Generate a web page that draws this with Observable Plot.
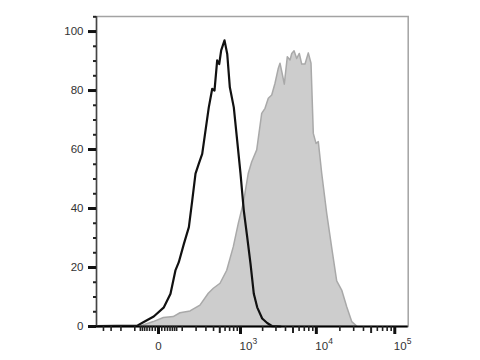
<!DOCTYPE html>
<html>
<head>
<meta charset="utf-8">
<script src="https://cdn.jsdelivr.net/npm/d3@7"></script>
<script src="https://cdn.jsdelivr.net/npm/@observablehq/plot@0.6"></script>
<style>
  html, body { margin: 0; padding: 0; background: #fff; }
</style>
</head>
<body>
<div id="chart"></div>
<script>
// Fluorescence intensity (biexponential-like axis) and event counts (% of max)
const controlX = [-510, -86, -54, -15, 17, 42, 64, 81, 110, 143, 168, 195, 225, 259, 295, 335, 381, 414, 456, 490, 525, 589, 646, 705, 804, 898, 1000, 1111, 1238, 1373, 1523, 1692, 1974, 2300, 2680, 3441];
const controlY = [0.1, 0.3, 1.5, 3.4, 6.5, 11.1, 19, 21.8, 28, 33.7, 42.7, 51.8, 55.2, 58.5, 66.4, 74.3, 80.6, 80, 90.2, 89, 93.6, 97, 92.4, 81.1, 74.3, 63, 51.8, 39.3, 30.3, 21.3, 11.1, 6.5, 2.7, 1.2, 0.1, 0];

const stainedX = [-69, -15, 17, 56, 90, 155, 241, 335, 404, 513, 646, 804, 946, 1111, 1301, 1449, 1692, 1974, 2185, 2415, 2680, 2960, 3272, 3441, 3709, 3916, 4287, 4647, 4891, 5240, 5670, 6128, 6582, 7255, 7999, 8670, 9279, 10050, 10754, 11890, 13780, 15960, 18480, 21410, 24810, 28730, 33240];
const stainedY = [0, 1.5, 2.9, 3.2, 4.5, 5.1, 7.1, 11.1, 12.8, 14.5, 18.9, 26.9, 34.8, 41.7, 51.8, 55.7, 59.7, 72.1, 73.8, 77.2, 78.3, 82.3, 87.4, 89.1, 85.1, 82.0, 91.3, 90.2, 92.4, 93.3, 90.7, 92.4, 88.8, 88.8, 92.6, 89.1, 65.3, 61.9, 62.5, 51.8, 38.2, 26.6, 15.3, 12.2, 6.5, 1.5, 0];

const xDomain = [-513, 148100];
const yDomain = [0, 105.1];

const xMajorTicks = [0, 1000, 10000, 100000];
const xMidTicks = [500, 5000, 50000];
const xMinorTicks = [-400, -300, -200, -100, -70, -60, -50, -40, -30, -20, -10, 10, 20, 30, 40, 50, 60, 70,
  100, 200, 300, 400, 600, 700, 800, 900,
  2000, 3000, 4000, 6000, 7000, 8000, 9000,
  20000, 30000, 40000, 60000, 70000, 80000, 90000];
const xLabelBase = ["0", "10", "10", "10"];
const xLabelExp = ["", "3", "4", "5"];

const yMajorTicks = [0, 20, 40, 60, 80, 100];
const yMinorTicks = [5, 10, 15, 25, 30, 35, 45, 50, 55, 65, 70, 75, 85, 90, 95, 105];

const chart = Plot.plot({
  width: 480,
  height: 360,
  marginLeft: 96,
  marginRight: 72.3,
  marginTop: 16,
  marginBottom: 34,
  style: {
    fontFamily: "'Liberation Sans', Arial, sans-serif",
    fontSize: "11.5px",
    color: "#333",
    background: "#fff",
    overflow: "visible"
  },
  x: { type: "symlog", constant: 100, domain: xDomain, axis: null, label: null },
  y: { domain: yDomain, axis: null, label: null },
  marks: [
    Plot.areaY(stainedY, { x: stainedX, y: stainedY, fill: "#cdcdcd", stroke: "#a9a9a9", strokeWidth: 1.5 }),
    Plot.lineY(controlY, { x: controlX, y: controlY, stroke: "#111", strokeWidth: 2.2, strokeLinejoin: "round" }),
    Plot.frame({ stroke: "#a3a3a3", strokeWidth: 1.5 }),
    Plot.ruleX([xDomain[0]], { stroke: "#444", strokeWidth: 1.5 }),
    Plot.ruleY([0], { stroke: "#000", strokeWidth: 2 }),
    // y axis
    Plot.axisY(yMajorTicks, { tickSize: 8, strokeWidth: 3, stroke: "#111", tickPadding: 5, fontSize: 11.5, fill: "#333", label: null }),
    Plot.axisY(yMinorTicks, { tickSize: 3, strokeWidth: 2, stroke: "#222", fill: "none", tickFormat: () => "", label: null }),
    // x axis ticks
    Plot.axisX(xMajorTicks, { tickSize: 8, strokeWidth: 3, stroke: "#111", fill: "none", tickFormat: () => "", label: null }),
    Plot.axisX(xMidTicks, { tickSize: 7, strokeWidth: 2, stroke: "#222", fill: "none", tickFormat: () => "", label: null }),
    Plot.axisX(xMinorTicks, { tickSize: 5, strokeWidth: 1.6, stroke: "#222", fill: "none", tickFormat: () => "", label: null }),
    // x labels
    Plot.text([xMajorTicks[0]], { x: d => d, text: (d, i) => xLabelBase[0], frameAnchor: "bottom", dy: 23, textAnchor: "middle", fontSize: 11.5, fill: "#333" }),
    Plot.text(xMajorTicks.slice(1), { x: d => d, text: (d, i) => xLabelBase[i + 1], frameAnchor: "bottom", dy: 23, dx: -1, textAnchor: "start", fontSize: 11.5, fill: "#333" }),
    Plot.text(xMajorTicks.slice(1), { x: d => d, text: (d, i) => xLabelExp[i + 1], frameAnchor: "bottom", dy: 17, dx: 12, textAnchor: "start", fontSize: 8.5, fill: "#333" })
  ]
});
document.getElementById("chart").appendChild(chart);
</script>
</body>
</html>
